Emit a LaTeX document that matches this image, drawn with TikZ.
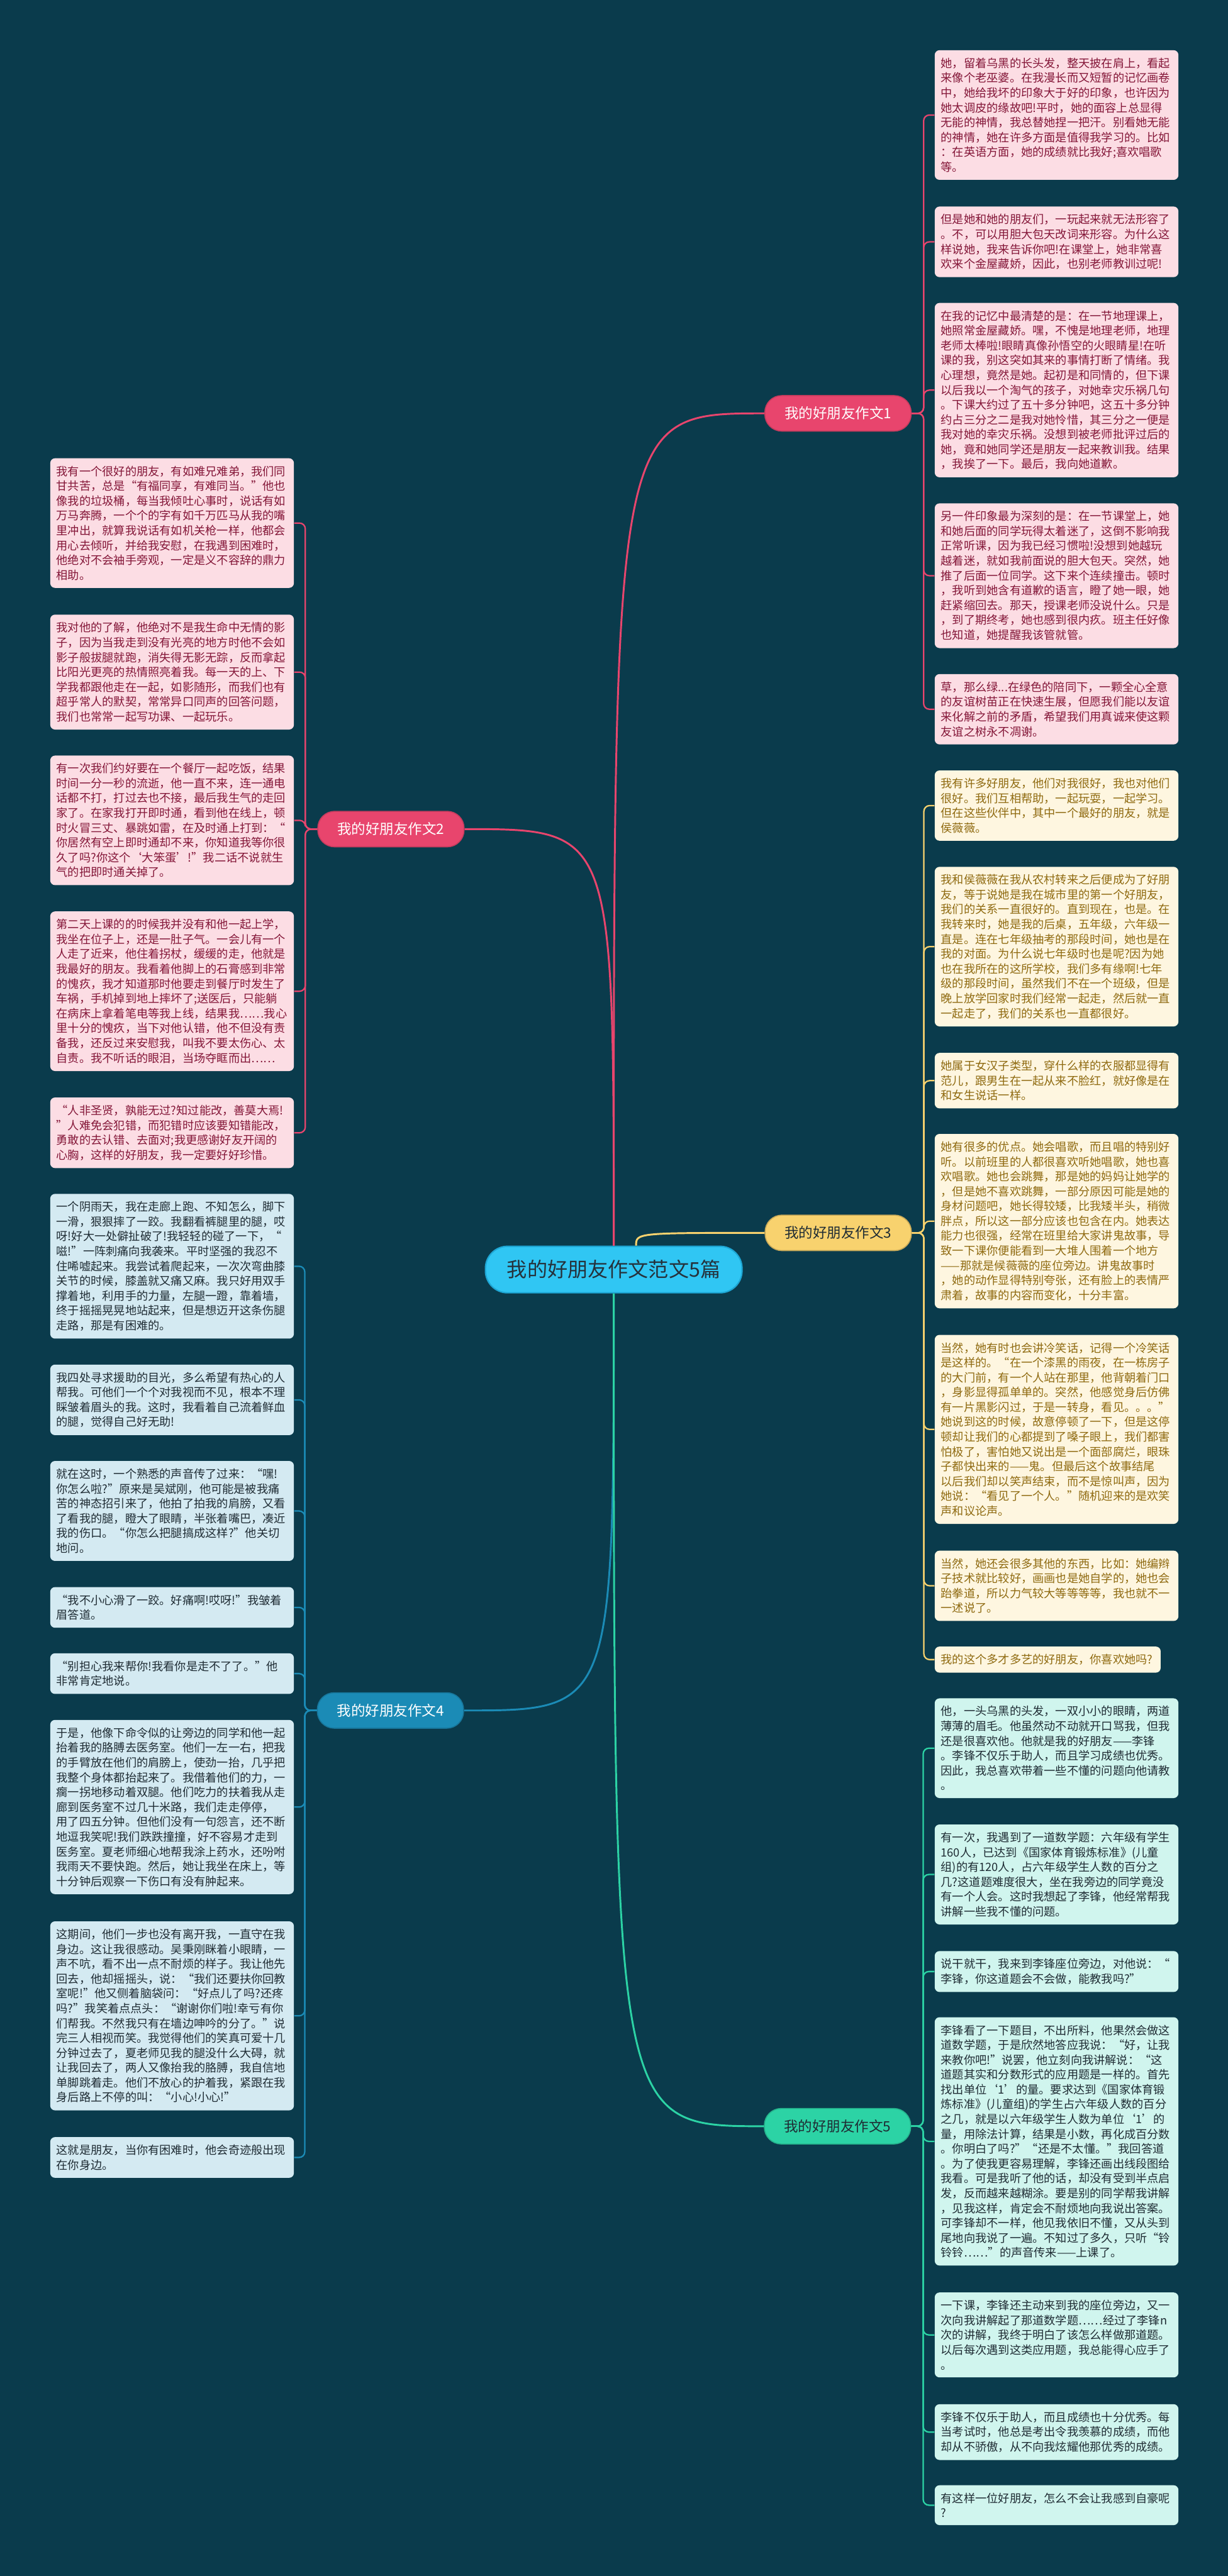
\documentclass[tikz,border=0pt]{standalone}
\usepackage{fontspec}
\setmainfont{Noto Sans CJK SC}
\usepackage{tikz}

\definecolor{bgcol}{HTML}{0A3B4C}
\definecolor{rootfill}{HTML}{30C6F3}
\definecolor{rootedge}{HTML}{1EA6D4}
\definecolor{roottx}{HTML}{25323C}
\definecolor{pinkc}{HTML}{E8456D}
\definecolor{pinkbg}{HTML}{FCDDE4}
\definecolor{pinktx}{HTML}{841638}
\definecolor{goldc}{HTML}{F8D26E}
\definecolor{goldbg}{HTML}{FEF6E0}
\definecolor{goldtx}{HTML}{8F6A10}
\definecolor{bluec}{HTML}{1B8BB6}
\definecolor{bluebg}{HTML}{D4EAF2}
\definecolor{greenc}{HTML}{2CD3A5}
\definecolor{greenbg}{HTML}{D0F5EE}
\definecolor{darktx}{HTML}{1F2C34}

\tikzset{
  rootbox/.style={rectangle, rounded corners=0.46cm, fill=rootfill, draw=rootedge, line width=0.8pt,
    minimum width=5.35cm, minimum height=0.97cm, text=roottx, font=\fontsize{12pt}{14pt}\selectfont},
  branchbox/.style={rectangle, rounded corners=0.35cm, minimum width=3.05cm, minimum height=0.74cm,
    line width=0.6pt, font=\fontsize{8.4pt}{10pt}\selectfont},
  leafbox/.style={rectangle, rounded corners=0.1cm, anchor=north west, text width=4.82cm,
    inner xsep=0.13cm, inner ysep=4.5pt, align=left, font=\fontsize{6.8pt}{8.8pt}\selectfont},
  pinkleaf/.style={leafbox, fill=pinkbg, text=pinktx},
  goldleaf/.style={leafbox, fill=goldbg, text=goldtx},
  blueleaf/.style={leafbox, fill=bluebg, text=darktx},
  greenleaf/.style={leafbox, fill=greenbg, text=darktx},
  mainline/.style={line width=1.1pt},
  twig/.style={line width=0.85pt, rounded corners=0.12cm},
}

\begin{document}
\begin{tikzpicture}
%%%%% START %%%%%

\fill[bgcol] (0,0) rectangle (25.6,-53.72);
\useasboundingbox (0,0) rectangle (25.6,-53.72);

\node[rootbox] (root) at (12.795,-26.475) {我的好朋友作文范文5篇};

\node[branchbox, fill=pinkc, draw=pinkc!85!black, text=white] (b1) at (17.47,-8.62) {我的好朋友作文1};
\node[branchbox, fill=pinkc, draw=pinkc!85!black, text=white] (b2) at (8.15,-17.29) {我的好朋友作文2};
\node[branchbox, fill=goldc, draw=goldc!80!black, text=darktx] (b3) at (17.475,-25.71) {我的好朋友作文3};
\node[branchbox, fill=bluec, draw=bluec!85!black, text=white] (b4) at (8.14,-35.67) {我的好朋友作文4};
\node[branchbox, fill=greenc, draw=greenc!85!black, text=darktx] (b5) at (17.46,-44.34) {我的好朋友作文5};

\draw[mainline, pinkc] (root.north) .. controls (root.north |- b1.west) .. (b1.west);
\draw[mainline, pinkc] (root.north) .. controls (root.north |- b2.east) .. (b2.east);
\draw[mainline, goldc] (root.47) .. controls (root.47 |- b3.west) .. (b3.west);
\draw[mainline, bluec] (root.south) .. controls (root.south |- b4.east) .. (b4.east);
\draw[mainline, greenc] (root.south) .. controls (root.south |- b5.west) .. (b5.west);

% essay 1
\node[pinkleaf] (r1a) at (19.48,-1.04) {她，留着乌黑的长头发，整天披在肩上，看起\\来像个老巫婆。在我漫长而又短暂的记忆画卷\\中，她给我坏的印象大于好的印象，也许因为\\她太调皮的缘故吧!平时，她的面容上总显得\\无能的神情，我总替她捏一把汗。别看她无能\\的神情，她在许多方面是值得我学习的。比如\\：在英语方面，她的成绩就比我好;喜欢唱歌\\等。};
\node[pinkleaf] (r1b) at (19.48,-4.30) {但是她和她的朋友们，一玩起来就无法形容了\\。不，可以用胆大包天改词来形容。为什么这\\样说她，我来告诉你吧!在课堂上，她非常喜\\欢来个金屋藏娇，因此，也别老师教训过呢!};
\node[pinkleaf] (r1c) at (19.48,-6.31) {在我的记忆中最清楚的是：在一节地理课上，\\她照常金屋藏娇。嘿，不愧是地理老师，地理\\老师太棒啦!眼睛真像孙悟空的火眼睛星!在听\\课的我，别这突如其来的事情打断了情绪。我\\心理想，竟然是她。起初是和同情的，但下课\\以后我以一个淘气的孩子，对她幸灾乐祸几句\\。下课大约过了五十多分钟吧，这五十多分钟\\约占三分之二是我对她怜惜，其三分之一便是\\我对她的幸灾乐祸。没想到被老师批评过后的\\她，竟和她同学还是朋友一起来教训我。结果\\，我挨了一下。最后，我向她道歉。};
\node[pinkleaf] (r1d) at (19.48,-10.49) {另一件印象最为深刻的是：在一节课堂上，她\\和她后面的同学玩得太着迷了，这倒不影响我\\正常听课，因为我已经习惯啦!没想到她越玩\\越着迷，就如我前面说的胆大包天。突然，她\\推了后面一位同学。这下来个连续撞击。顿时\\，我听到她含有道歉的语言，瞪了她一眼，她\\赶紧缩回去。那天，授课老师没说什么。只是\\，到了期终考，她也感到很内疚。班主任好像\\也知道，她提醒我该管就管。};
\node[pinkleaf] (r1e) at (19.48,-14.05) {草，那么绿...在绿色的陪同下，一颗全心全意\\的友谊树苗正在快速生展，但愿我们能以友谊\\来化解之前的矛盾，希望我们用真诚来使这颗\\友谊之树永不凋谢。};

\draw[twig, pinkc] (b1.east) -- ++(0.25,0) |- (r1a.west);
\draw[twig, pinkc] (b1.east) -- ++(0.25,0) |- (r1b.west);
\draw[twig, pinkc] (b1.east) -- ++(0.25,0) |- (r1c.west);
\draw[twig, pinkc] (b1.east) -- ++(0.25,0) |- (r1d.west);
\draw[twig, pinkc] (b1.east) -- ++(0.25,0) |- (r1e.west);

% essay 2
\node[pinkleaf] (l2a) at (1.04,-9.55) {我有一个很好的朋友，有如难兄难弟，我们同\\甘共苦，总是“有福同享，有难同当。”他也\\像我的垃圾桶，每当我倾吐心事时，说话有如\\万马奔腾，一个个的字有如千万匹马从我的嘴\\里冲出，就算我说话有如机关枪一样，他都会\\用心去倾听，并给我安慰，在我遇到困难时，\\他绝对不会袖手旁观，一定是义不容辞的鼎力\\相助。};
\node[pinkleaf] (l2b) at (1.04,-12.81) {我对他的了解，他绝对不是我生命中无情的影\\子，因为当我走到没有光亮的地方时他不会如\\影子般拔腿就跑，消失得无影无踪，反而拿起\\比阳光更亮的热情照亮着我。每一天的上、下\\学我都跟他走在一起，如影随形，而我们也有\\超乎常人的默契，常常异口同声的回答问题，\\我们也常常一起写功课、一起玩乐。};
\node[pinkleaf] (l2c) at (1.04,-15.75) {有一次我们约好要在一个餐厅一起吃饭，结果\\时间一分一秒的流逝，他一直不来，连一通电\\话都不打，打过去也不接，最后我生气的走回\\家了。在家我打开即时通，看到他在线上，顿\\时火冒三丈、暴跳如雷，在及时通上打到：“\\你居然有空上即时通却不来，你知道我等你很\\久了吗?你这个‘大笨蛋’!”我二话不说就生\\气的把即时通关掉了。};
\node[pinkleaf] (l2d) at (1.04,-19.00) {第二天上课的的时候我并没有和他一起上学，\\我坐在位子上，还是一肚子气。一会儿有一个\\人走了近来，他住着拐杖，缓缓的走，他就是\\我最好的朋友。我看着他脚上的石膏感到非常\\的愧疚，我才知道那时他要走到餐厅时发生了\\车祸，手机掉到地上摔坏了;送医后，只能躺\\在病床上拿着笔电等我上线，结果我……我心\\里十分的愧疚，当下对他认错，他不但没有责\\备我，还反过来安慰我，叫我不要太伤心、太\\自责。我不听话的眼泪，当场夺眶而出……};
\node[pinkleaf] (l2e) at (1.04,-22.88) {“人非圣贤，孰能无过?知过能改，善莫大焉!\\”人难免会犯错，而犯错时应该要知错能改，\\勇敢的去认错、去面对;我更感谢好友开阔的\\心胸，这样的好朋友，我一定要好好珍惜。};

\draw[twig, pinkc] (b2.west) -- ++(-0.25,0) |- (l2a.east);
\draw[twig, pinkc] (b2.west) -- ++(-0.25,0) |- (l2b.east);
\draw[twig, pinkc] (b2.west) -- ++(-0.25,0) |- (l2c.east);
\draw[twig, pinkc] (b2.west) -- ++(-0.25,0) |- (l2d.east);
\draw[twig, pinkc] (b2.west) -- ++(-0.25,0) |- (l2e.east);

% essay 3
\node[goldleaf] (r3a) at (19.48,-16.06) {我有许多好朋友，他们对我很好，我也对他们\\很好。我们互相帮助，一起玩耍，一起学习。\\但在这些伙伴中，其中一个最好的朋友，就是\\侯薇薇。};
\node[goldleaf] (r3b) at (19.48,-18.07) {我和侯薇薇在我从农村转来之后便成为了好朋\\友，等于说她是我在城市里的第一个好朋友，\\我们的关系一直很好的。直到现在，也是。在\\我转来时，她是我的后桌，五年级，六年级一\\直是。连在七年级抽考的那段时间，她也是在\\我的对面。为什么说七年级时也是呢?因为她\\也在我所在的这所学校，我们多有缘啊!七年\\级的那段时间，虽然我们不在一个班级，但是\\晚上放学回家时我们经常一起走，然后就一直\\一起走了，我们的关系也一直都很好。};
\node[goldleaf] (r3c) at (19.48,-21.95) {她属于女汉子类型，穿什么样的衣服都显得有\\范儿，跟男生在一起从来不脸红，就好像是在\\和女生说话一样。};
\node[goldleaf] (r3d) at (19.48,-23.64) {她有很多的优点。她会唱歌，而且唱的特别好\\听。以前班里的人都很喜欢听她唱歌，她也喜\\欢唱歌。她也会跳舞，那是她的妈妈让她学的\\，但是她不喜欢跳舞，一部分原因可能是她的\\身材问题吧，她长得较矮，比我矮半头，稍微\\胖点，所以这一部分应该也包含在内。她表达\\能力也很强，经常在班里给大家讲鬼故事，导\\致一下课你便能看到一大堆人围着一个地方\\——那就是候薇薇的座位旁边。讲鬼故事时\\，她的动作显得特别夸张，还有脸上的表情严\\肃着，故事的内容而变化，十分丰富。};
\node[goldleaf] (r3e) at (19.48,-27.83) {当然，她有时也会讲冷笑话，记得一个冷笑话\\是这样的。“在一个漆黑的雨夜，在一栋房子\\的大门前，有一个人站在那里，他背朝着门口\\，身影显得孤单单的。突然，他感觉身后仿佛\\有一片黑影闪过，于是一转身，看见。。。”\\她说到这的时候，故意停顿了一下，但是这停\\顿却让我们的心都提到了嗓子眼上，我们都害\\怕极了，害怕她又说出是一个面部腐烂，眼珠\\子都快出来的——鬼。但最后这个故事结尾\\以后我们却以笑声结束，而不是惊叫声，因为\\她说：“看见了一个人。”随机迎来的是欢笑\\声和议论声。};
\node[goldleaf] (r3f) at (19.48,-32.33) {当然，她还会很多其他的东西，比如：她编辫\\子技术就比较好，画画也是她自学的，她也会\\跆拳道，所以力气较大等等等等，我也就不一\\一述说了。};
\node[goldleaf, text width=4.45cm] (r3g) at (19.48,-34.33) {我的这个多才多艺的好朋友，你喜欢她吗?};

\draw[twig, goldc] (b3.east) -- ++(0.25,0) |- (r3a.west);
\draw[twig, goldc] (b3.east) -- ++(0.25,0) |- (r3b.west);
\draw[twig, goldc] (b3.east) -- ++(0.25,0) |- (r3c.west);
\draw[twig, goldc] (b3.east) -- ++(0.25,0) |- (r3d.west);
\draw[twig, goldc] (b3.east) -- ++(0.25,0) |- (r3e.west);
\draw[twig, goldc] (b3.east) -- ++(0.25,0) |- (r3f.west);
\draw[twig, goldc] (b3.east) -- ++(0.25,0) |- (r3g.west);

% essay 4
\node[blueleaf] (l4a) at (1.04,-24.89) {一个阴雨天，我在走廊上跑、不知怎么，脚下\\一滑，狠狠摔了一跤。我翻看裤腿里的腿，哎\\呀!好大一处僻扯破了!我轻轻的碰了一下，“\\嗞!”一阵刺痛向我袭来。平时坚强的我忍不\\住唏嘘起来。我尝试着爬起来，一次次弯曲膝\\关节的时候，膝盖就又痛又麻。我只好用双手\\撑着地，利用手的力量，左腿一蹬，靠着墙，\\终于摇摇晃晃地站起来，但是想迈开这条伤腿\\走路，那是有困难的。};
\node[blueleaf] (l4b) at (1.04,-28.45) {我四处寻求援助的目光，多么希望有热心的人\\帮我。可他们一个个对我视而不见，根本不理\\睬皱着眉头的我。这时，我看着自己流着鲜血\\的腿，觉得自己好无助!};
\node[blueleaf] (l4c) at (1.04,-30.46) {就在这时，一个熟悉的声音传了过来：“嘿!\\你怎么啦?”原来是吴斌刚，他可能是被我痛\\苦的神态招引来了，他拍了拍我的肩膀，又看\\了看我的腿，瞪大了眼睛，半张着嘴巴，凑近\\我的伤口。“你怎么把腿搞成这样?”他关切\\地问。};
\node[blueleaf] (l4d) at (1.04,-33.09) {“我不小心滑了一跤。好痛啊!哎呀!”我皱着\\眉答道。};
\node[blueleaf] (l4e) at (1.04,-34.47) {“别担心我来帮你!我看你是走不了了。”他\\非常肯定地说。};
\node[blueleaf] (l4f) at (1.04,-35.86) {于是，他像下命令似的让旁边的同学和他一起\\抬着我的胳膊去医务室。他们一左一右，把我\\的手臂放在他们的肩膀上，使劲一抬，几乎把\\我整个身体都抬起来了。我借着他们的力，一\\瘸一拐地移动着双腿。他们吃力的扶着我从走\\廊到医务室不过几十米路，我们走走停停，\\用了四五分钟。但他们没有一句怨言，还不断\\地逗我笑呢!我们跌跌撞撞，好不容易才走到\\医务室。夏老师细心地帮我涂上药水，还吩咐\\我雨天不要快跑。然后，她让我坐在床上，等\\十分钟后观察一下伤口有没有肿起来。};
\node[blueleaf] (l4g) at (1.04,-40.06) {这期间，他们一步也没有离开我，一直守在我\\身边。这让我很感动。吴秉刚眯着小眼睛，一\\声不吭，看不出一点不耐烦的样子。我让他先\\回去，他却摇摇头，说：“我们还要扶你回教\\室呢!”他又侧着脑袋问：“好点儿了吗?还疼\\吗?”我笑着点点头：“谢谢你们啦!幸亏有你\\们帮我。不然我只有在墙边呻吟的分了。”说\\完三人相视而笑。我觉得他们的笑真可爱十几\\分钟过去了，夏老师见我的腿没什么大碍，就\\让我回去了，两人又像抬我的胳膊，我自信地\\单脚跳着走。他们不放心的护着我，紧跟在我\\身后路上不停的叫：“小心!小心!”};
\node[blueleaf] (l4h) at (1.04,-44.56) {这就是朋友，当你有困难时，他会奇迹般出现\\在你身边。};

\draw[twig, bluec] (b4.west) -- ++(-0.25,0) |- (l4a.east);
\draw[twig, bluec] (b4.west) -- ++(-0.25,0) |- (l4b.east);
\draw[twig, bluec] (b4.west) -- ++(-0.25,0) |- (l4c.east);
\draw[twig, bluec] (b4.west) -- ++(-0.25,0) |- (l4d.east);
\draw[twig, bluec] (b4.west) -- ++(-0.25,0) |- (l4e.east);
\draw[twig, bluec] (b4.west) -- ++(-0.25,0) |- (l4f.east);
\draw[twig, bluec] (b4.west) -- ++(-0.25,0) |- (l4g.east);
\draw[twig, bluec] (b4.west) -- ++(-0.25,0) |- (l4h.east);

% essay 5
\node[greenleaf] (r5a) at (19.48,-35.41) {他，一头乌黑的头发，一双小小的眼睛，两道\\薄薄的眉毛。他虽然动不动就开口骂我，但我\\还是很喜欢他。他就是我的好朋友——李锋\\。李锋不仅乐于助人，而且学习成绩也优秀。\\因此，我总喜欢带着一些不懂的问题向他请教\\。};
\node[greenleaf] (r5b) at (19.48,-38.04) {有一次，我遇到了一道数学题：六年级有学生\\160人，已达到《国家体育锻炼标准》(儿童\\组)的有120人，占六年级学生人数的百分之\\几?这道题难度很大，坐在我旁边的同学竟没\\有一个人会。这时我想起了李锋，他经常帮我\\讲解一些我不懂的问题。};
\node[greenleaf] (r5c) at (19.48,-40.68) {说干就干，我来到李锋座位旁边，对他说：“\\李锋，你这道题会不会做，能教我吗?”};
\node[greenleaf] (r5d) at (19.48,-42.06) {李锋看了一下题目，不出所料，他果然会做这\\道数学题，于是欣然地答应我说：“好，让我\\来教你吧!”说罢，他立刻向我讲解说：“这\\道题其实和分数形式的应用题是一样的。首先\\找出单位‘1’的量。要求达到《国家体育锻\\炼标准》(儿童组)的学生占六年级人数的百分\\之几，就是以六年级学生人数为单位‘1’的\\量，用除法计算，结果是小数，再化成百分数\\。你明白了吗?”“还是不太懂。”我回答道\\。为了使我更容易理解，李锋还画出线段图给\\我看。可是我听了他的话，却没有受到半点启\\发，反而越来越糊涂。要是别的同学帮我讲解\\，见我这样，肯定会不耐烦地向我说出答案。\\可李锋却不一样，他见我依旧不懂，又从头到\\尾地向我说了一遍。不知过了多久，只听“铃\\铃铃……”的声音传来——上课了。};
\node[greenleaf] (r5e) at (19.48,-47.80) {一下课，李锋还主动来到我的座位旁边，又一\\次向我讲解起了那道数学题……经过了李锋n\\次的讲解，我终于明白了该怎么样做那道题。\\以后每次遇到这类应用题，我总能得心应手了\\。};
\node[greenleaf] (r5f) at (19.48,-50.13) {李锋不仅乐于助人，而且成绩也十分优秀。每\\当考试时，他总是考出令我羡慕的成绩，而他\\却从不骄傲，从不向我炫耀他那优秀的成绩。};
\node[greenleaf] (r5g) at (19.48,-51.82) {有这样一位好朋友，怎么不会让我感到自豪呢\\?};

\draw[twig, greenc] (b5.east) -- ++(0.25,0) |- (r5a.west);
\draw[twig, greenc] (b5.east) -- ++(0.25,0) |- (r5b.west);
\draw[twig, greenc] (b5.east) -- ++(0.25,0) |- (r5c.west);
\draw[twig, greenc] (b5.east) -- ++(0.25,0) |- (r5d.west);
\draw[twig, greenc] (b5.east) -- ++(0.25,0) |- (r5e.west);
\draw[twig, greenc] (b5.east) -- ++(0.25,0) |- (r5f.west);
\draw[twig, greenc] (b5.east) -- ++(0.25,0) |- (r5g.west);

%%%%% END %%%%%
\end{tikzpicture}
\end{document}
